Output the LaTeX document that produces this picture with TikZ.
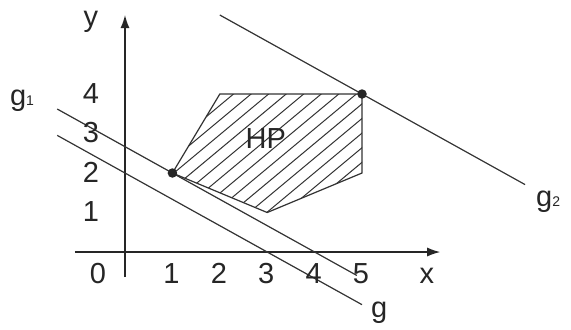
\documentclass[tikz,border=0pt]{standalone}
\usepackage{fontspec}
\setmainfont{Liberation Sans}
\usetikzlibrary{arrows.meta}
\begin{document}
\begin{tikzpicture}[x=47.4pt,y=39.5pt,
  lbl/.style={inner sep=0pt,anchor=base,font=\fontsize{29}{31}\selectfont,text=black!85},
  axisline/.style={line width=1.4pt,draw=black!85,-{Latex[length=13pt,width=9pt]}},
  gline/.style={line width=1.2pt,draw=black!80},
  edge/.style={line width=1.2pt,draw=black!80},
  hatch/.style={line width=1pt,draw=black!80},
  dotmark/.style={circle,fill=black!85,inner sep=0pt,minimum size=9.5pt}]
\useasboundingbox (-2.637,-1.949) rectangle (9.409,6.380);
\fill[white] (-2.637,-1.949) rectangle (9.409,6.380);
% axes
\coordinate (xs) at (-1.055,0);
\coordinate (xe) at (6.65,0);
\coordinate (ys) at (0,-0.633);
\coordinate (ye) at (0,6.0);
\draw[axisline] (xs) -- (xe);
\draw[axisline] (ys) -- (ye);
% polygon
\coordinate (A) at (1,2);
\coordinate (B) at (2,4);
\coordinate (C) at (5,4);
\coordinate (D) at (5,2);
\coordinate (E) at (3,1);
\begin{scope}
\clip (A) -- (B) -- (C) -- (D) -- (E) -- cycle;
\foreach \c in {-3.1,-2.73,...,2.2}
  \draw[hatch] (-1,\c-1) -- (8,\c+8);
\end{scope}
\draw[edge] (A) -- (B) -- (C) -- (D) -- (E) -- cycle;
% lines g, g1, g2
\coordinate (g1s) at (-1.43,3.62);
\coordinate (g1e) at (4.89,-0.593);
\coordinate (gs) at (-1.43,2.953);
\coordinate (ge) at (5.0,-1.333);
\coordinate (g2s) at (2.0,6.0);
\coordinate (g2e) at (8.44,1.707);
\draw[gline] (g1s) -- (g1e);
\draw[gline] (gs) -- (ge);
\draw[gline] (g2s) -- (g2e);
% dots
\node[dotmark] (PA) at (A) {};
\node[dotmark] (PC) at (C) {};
% labels
\node[lbl] (lx0) at (-0.57,-0.785) {0};
\foreach \i in {1,...,5}
  \node[lbl] (lx\i) at (\i-0.02,-0.785) {\i};
\node[lbl] (lxx) at (6.37,-0.785) {x};
\foreach \i in {1,...,4}
  \node[lbl] (ly\i) at (-0.72,\i-0.23) {\i};
\node[lbl] (lyy) at (-0.72,5.70) {y};
\node[lbl] (HP) at (2.97,2.61) {HP};
\node[lbl,anchor=base west] (lg1) at (-2.43,3.72) {g{\fontsize{14}{15}\selectfont 1}};
\node[lbl,anchor=base west] (lg2) at (8.67,1.14) {g{\fontsize{14}{15}\selectfont 2}};
\node[lbl,anchor=base west] (lg) at (5.19,-1.67) {g};
\end{tikzpicture}
\end{document}
